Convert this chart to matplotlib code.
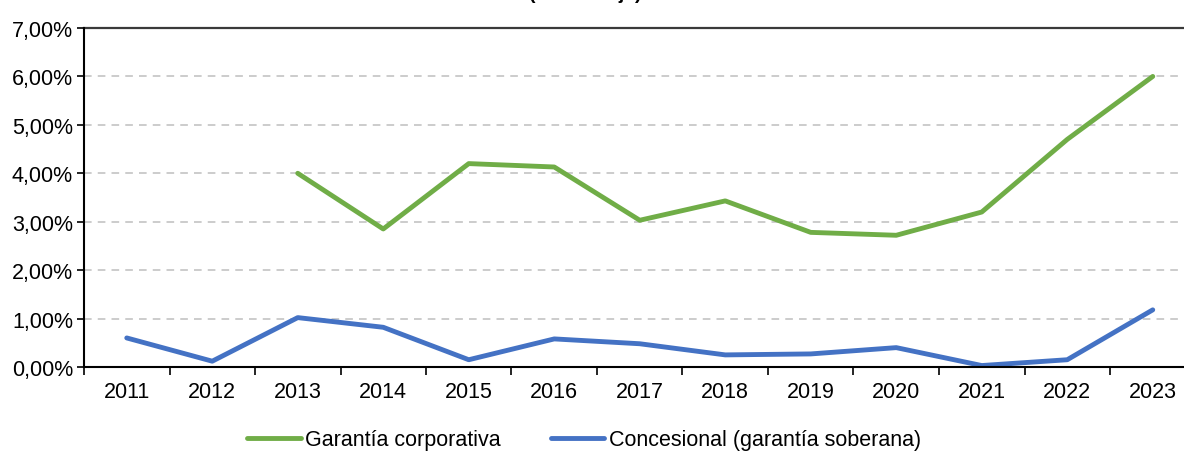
import matplotlib
matplotlib.use("Agg")
import matplotlib.pyplot as plt
import numpy as np
from matplotlib.ticker import FuncFormatter, FixedLocator

plt.rcParams['font.family'] = ['Liberation Sans', 'DejaVu Sans']

years = [2011, 2012, 2013, 2014, 2015, 2016, 2017, 2018, 2019, 2020, 2021, 2022, 2023]
corporativa = [np.nan, np.nan, 4.00, 2.85, 4.20, 4.13, 3.03, 3.43, 2.78, 2.72, 3.20, 4.70, 6.00]
concesional = [0.60, 0.12, 1.02, 0.82, 0.15, 0.58, 0.48, 0.25, 0.27, 0.40, 0.03, 0.15, 1.18]
labels = ["Garantía corporativa", "Concesional (garantía soberana)"]
title = "(Porcentaje)"

W, H = 1184, 452
fig = plt.figure(figsize=(W / 100, H / 100), dpi=100)
left, right = 84, 1195.5
bottom, top = 368, 29
ax = fig.add_axes([left / W, 1 - bottom / H, (right - left) / W, (bottom - top) / H])

x = np.arange(len(years))
ax.plot(x, corporativa, color='#70AD47', lw=3.5, label=labels[0], solid_capstyle='round')
ax.plot(x, concesional, color='#4472C4', lw=3.5, label=labels[1], solid_capstyle='round')

ax.set_xlim(-0.5, len(years) - 0.5)
ax.set_ylim(0, 7)
ax.set_yticks(np.arange(0, 8, 1))
ax.yaxis.set_major_formatter(FuncFormatter(lambda v, p: f"{v:.2f}".replace('.', ',') + "%"))
for yv in range(1, 7):
    ax.axhline(yv, color='#BFBFBF', lw=1.1, ls=(0, (5, 4)), zorder=0)
ax.axhline(7, color='#3A3A3A', lw=1.6, zorder=0, clip_on=False)

ax.set_xticks(x)
ax.set_xticklabels([str(y) for y in years])
ax.xaxis.set_minor_locator(FixedLocator(np.arange(-0.5, len(years), 1)))
ax.tick_params(axis='x', which='major', length=0, pad=10, labelsize=15.5)
ax.tick_params(axis='x', which='minor', length=6, width=1.2, direction='out', color='black')
ax.tick_params(axis='y', length=5, width=1.2, labelsize=15.5, pad=3)

for s in ['top', 'right']:
    ax.spines[s].set_visible(False)
for s in ['left', 'bottom']:
    ax.spines[s].set_linewidth(1.5)
    ax.spines[s].set_color('black')

fig.text(585 / W, 1 + 6 / H, title, ha='center', va='center', fontsize=14, fontweight='bold')

leg = fig.legend(loc='center', bbox_to_anchor=(584 / W, 1 - 441 / H), ncol=2, frameon=False,
                 fontsize=15.5, handlelength=2.5, handletextpad=0.2, columnspacing=2.3)

fig.savefig("out.png", dpi=100)
